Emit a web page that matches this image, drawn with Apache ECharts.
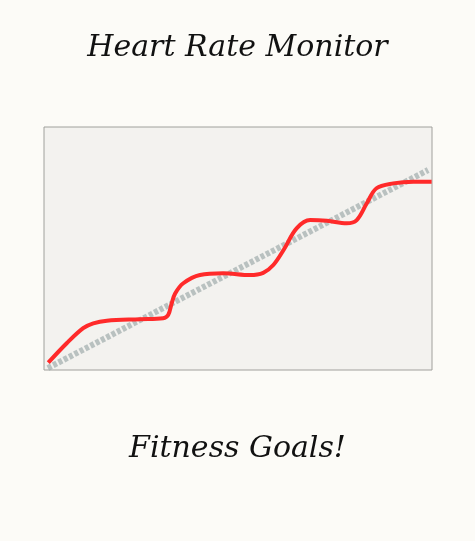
<!DOCTYPE html>
<html>
<head>
<meta charset="utf-8">
<script src="https://cdn.jsdelivr.net/npm/echarts@6/dist/echarts.min.js"></script>
<style>
html,body{margin:0;padding:0;background:#fcfbf7;}
#c{width:475px;height:541px;}
</style>
</head>
<body>
<div id="c"></div>
<script>
var titleText = "Heart Rate Monitor";
var footerText = "Fitness Goals!";
var heartX = [1.1, 5.85, 10.1, 12.7, 16.2, 24.7, 30.7, 32.0, 32.9, 33.8, 35.9, 40.2, 46.2, 53.1, 56.5, 59.1, 61.9, 65.1, 68.6, 72.9, 78.0, 80.6, 83.2, 85.7, 90.0, 95.2, 99.9];
var heartY = [3.0, 11.0, 17.2, 19.2, 20.3, 20.9, 21.3, 22.6, 27.4, 31.5, 35.7, 39.1, 39.8, 39.1, 40.0, 43.2, 49.8, 58.3, 61.7, 61.4, 60.4, 61.7, 68.6, 74.8, 76.8, 77.5, 77.5];
var goalX = [1, 99];
var goalY = [0.8, 82.3];

function pairs(xs, ys){ return xs.map(function(x,i){ return [x, ys[i]]; }); }

var chart = echarts.init(document.getElementById('c'));
chart.setOption({
  backgroundColor: '#fcfbf7',
  animation: false,
  title: [
    {text: titleText, left: 'center', top: 28, textStyle: {fontFamily: 'DejaVu Serif', fontStyle: 'italic', fontWeight: 'normal', fontSize: 30, color: '#111'}},
    {text: footerText, left: 'center', top: 429, textStyle: {fontFamily: 'DejaVu Serif', fontStyle: 'italic', fontWeight: 'normal', fontSize: 30, color: '#111'}}
  ],
  grid: {left: 44, top: 127, width: 388, height: 243, show: true, backgroundColor: '#f3f2ef', borderColor: '#a0a09c', borderWidth: 1},
  xAxis: {type: 'value', min: 0, max: 100, show: false},
  yAxis: {type: 'value', min: 0, max: 100, show: false},
  series: [
    {type: 'line', data: pairs(goalX, goalY), symbol: 'none', lineStyle: {color: 'rgba(160,172,172,0.7)', width: 6, type: [4, 2]}},
    {type: 'line', data: pairs(heartX, heartY), symbol: 'none', smooth: 0.35, lineStyle: {color: '#ff2a2a', width: 4}}
  ]
});
</script>
</body>
</html>
